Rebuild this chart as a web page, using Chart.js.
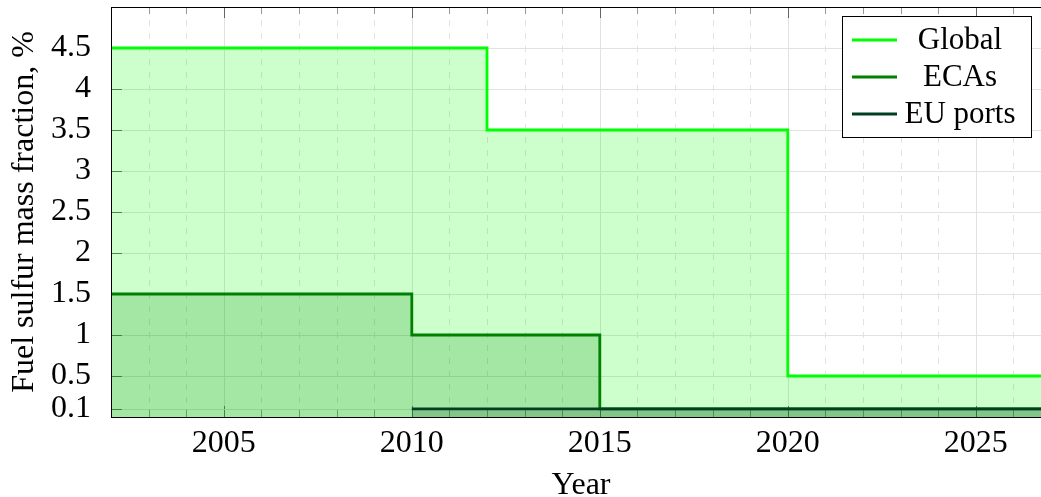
<!DOCTYPE html>
<html>
<head>
<meta charset="utf-8">
<script src="https://cdn.jsdelivr.net/npm/chart.js@4"></script>
<style>
  html, body { margin: 0; padding: 0; overflow: hidden; background: #fff; }
</style>
</head>
<body>
<canvas id="chart" width="1062" height="497"></canvas>
<script>
// ---- data ----
const seriesNames = ['Global', 'ECAs', 'EU ports'];
const globalYears = [2002, 2012, 2020, 2027];
const globalLimits = [4.5, 3.5, 0.5, 0.5];
const ecaYears = [2002, 2010, 2015, 2027];
const ecaLimits = [1.5, 1, 0.1, 0.1];
const euYears = [2010, 2027];
const euLimits = [0.1, 0.1];
const xTicks = [2005, 2010, 2015, 2020, 2025];
const yTicks = [0.1, 0.5, 1, 1.5, 2, 2.5, 3, 3.5, 4, 4.5];

const lineColors = ['#00ff00', '#008000', '#004020'];
const fillColors = ['rgba(0,255,0,0.2)', 'rgba(0,128,0,0.2)', 'rgba(0,64,32,0.2)'];
const serif = "'Liberation Serif', 'DejaVu Serif', serif";

function points(xs, ys) {
  return xs.map((x, i) => ({ x, y: ys[i] }));
}

function seg(ctx, x1, y1, x2, y2) {
  ctx.beginPath();
  ctx.moveTo(x1, y1);
  ctx.lineTo(x2, y2);
  ctx.stroke();
}

// grid, inward ticks, frame and the boxed legend (pgfplots look)
const axisDecor = {
  id: 'axisDecor',
  beforeDatasetsDraw(chart) {
    const { ctx, chartArea: a, scales: { x, y } } = chart;
    ctx.save();
    ctx.lineWidth = 1;
    for (let yr = Math.ceil(x.min); yr <= x.max; yr++) {
      const px = Math.round(x.getPixelForValue(yr)) + 0.5;
      const major = yr % 5 === 0;
      ctx.strokeStyle = '#e2e2e2';
      ctx.setLineDash(major ? [] : [6, 7]);
      seg(ctx, px, a.top, px, a.bottom);
      ctx.setLineDash([]);
      ctx.strokeStyle = major ? '#666' : '#999';
      const len = major ? 11 : 7;
      seg(ctx, px, a.top, px, a.top + len);
      seg(ctx, px, a.bottom, px, a.bottom - len);
    }
    for (const v of yTicks) {
      const py = Math.round(y.getPixelForValue(v)) + 0.5;
      ctx.strokeStyle = '#e2e2e2';
      seg(ctx, a.left, py, a.right, py);
      ctx.strokeStyle = '#666';
      seg(ctx, a.left, py, a.left + 11, py);
    }
    ctx.restore();
  },
  afterDatasetsDraw(chart) {
    const { ctx, chartArea: a } = chart;
    ctx.save();
    ctx.strokeStyle = '#000';
    ctx.lineWidth = 1;
    ctx.strokeRect(Math.round(a.left) + 0.5, Math.round(a.top) + 0.5,
      Math.round(a.right - a.left), Math.round(a.bottom - a.top));
    ctx.restore();
  },
  afterDraw(chart) {
    const { ctx, chartArea: a } = chart;
    const w = 189, h = 121;
    const left = a.right - 20 - w, top = a.top + 9;
    ctx.save();
    ctx.fillStyle = '#fff';
    ctx.fillRect(left, top, w, h);
    ctx.strokeStyle = '#000';
    ctx.lineWidth = 1;
    ctx.strokeRect(Math.round(left) + 0.5, Math.round(top) + 0.5, w, h);
    ctx.font = '31px ' + serif;
    ctx.textAlign = 'center';
    ctx.textBaseline = 'alphabetic';
    chart.data.datasets.forEach((ds, i) => {
      const cy = top + 24 + i * 37;
      ctx.strokeStyle = ds.borderColor;
      ctx.lineWidth = 3;
      seg(ctx, left + 10, cy, left + 55, cy);
      ctx.fillStyle = '#000';
      ctx.fillText(ds.label, left + 118, cy + 9);
    });
    ctx.restore();
  }
};

const datasets = [
  points(globalYears, globalLimits),
  points(ecaYears, ecaLimits),
  points(euYears, euLimits),
].map((data, i) => ({
  label: seriesNames[i],
  data,
  stepped: true,
  borderColor: lineColors[i],
  backgroundColor: fillColors[i],
  borderWidth: 2.8,
  fill: 'origin',
  pointRadius: 0,
  order: 3 - i,
}));

new Chart(document.getElementById('chart'), {
  type: 'line',
  data: { datasets },
  options: {
    responsive: false,
    animation: false,
    layout: { padding: { left: 0, top: 7, right: 11, bottom: 0 } },
    plugins: { legend: { display: false }, tooltip: { enabled: false } },
    scales: {
      x: {
        type: 'linear',
        min: 2002,
        max: 2027,
        grid: { display: false },
        border: { display: false },
        afterBuildTicks: (s) => { s.ticks = xTicks.map((v) => ({ value: v })); },
        afterFit: (s) => { s.height = 80; s.paddingLeft = 0; s.paddingRight = 0; },
        ticks: {
          color: '#000',
          padding: -1,
          maxRotation: 0,
          font: { family: serif, size: 32 },
          callback: (v) => String(v),
        },
        title: {
          display: true,
          text: 'Year',
          color: '#000',
          padding: { top: 0, bottom: 2 },
          font: { family: serif, size: 32, lineHeight: 0.6 },
        },
      },
      y: {
        min: 0,
        max: 5,
        grid: { display: false },
        border: { display: false },
        afterBuildTicks: (s) => { s.ticks = yTicks.map((v) => ({ value: v })); },
        afterFit: (s) => { s.width = 111; s.paddingTop = 0; s.paddingBottom = 0; },
        ticks: {
          color: '#000',
          padding: 12,
          font: { family: serif, size: 32 },
          callback: (v) => String(v),
        },
        title: {
          display: true,
          text: 'Fuel sulfur mass fraction, %',
          color: '#000',
          padding: { top: 5, bottom: 0 },
          font: { family: serif, size: 32 },
        },
      },
    },
  },
  plugins: [axisDecor],
});
</script>
</body>
</html>
